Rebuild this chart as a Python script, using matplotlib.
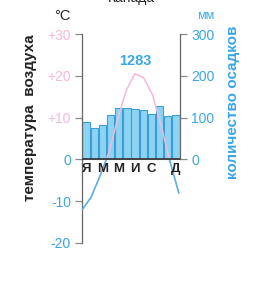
import matplotlib
matplotlib.use("Agg")
import matplotlib.pyplot as plt
import numpy as np
from matplotlib.patches import Rectangle

plt.rcParams['font.family'] = ['Liberation Sans', 'DejaVu Sans']

months = ["Я", "Ф", "М", "А", "М", "И", "И", "А", "С", "О", "Н", "Д"]
month_label_idx = [0, 2, 4, 6, 8, 11]
precip_mm = [90, 75, 82, 107, 122, 122, 120, 118, 108, 128, 105, 107]
temp_c = [-12, -9, -4, 1.5, 9.5, 16.5, 20.5, 19.5, 15.5, 8, -0.5, -8]
total_precip = "1283"
temp_ticks = [-20, -10, 0, 10, 20, 30]
temp_tick_labels = ["-20", "-10", "0", "+10", "+20", "+30"]
precip_ticks = [0, 100, 200, 300]

BLUE = "#3aa6e6"
PINK = "#f6b8da"
BAR = "#8dd3f3"
BAR_EDGE = "#3b9fd6"

fig = plt.figure(figsize=(2.70, 2.92), dpi=100)
ax = fig.add_axes([82/270, 1-243/292, 98/270, 209/292])
ax2 = ax.twinx()

ax.set_xlim(-0.5, 11.5)
ax.set_ylim(-20, 30)
ax2.set_ylim(-200, 300)

# bars on secondary (mm) axis
x = np.arange(12)
ax2.bar(x, precip_mm, width=0.88, color=BAR, edgecolor=BAR_EDGE, linewidth=0.8, zorder=2)

# temperature line (pink above 0, blue below)
lx = np.linspace(-0.45, 11.35, 12)
ax.set_zorder(ax2.get_zorder() + 1)
ax.patch.set_visible(False)
t = np.array(temp_c, dtype=float)
lb, = ax.plot(lx, t, color="#5aaee2", lw=1.2, zorder=3)
lb.set_clip_path(Rectangle((-0.5, -20), 12, 20, transform=ax.transData))
lp, = ax.plot(lx, t, color=PINK, lw=1.1, zorder=3)
lp.set_clip_path(Rectangle((-0.5, 0), 12, 30, transform=ax.transData))

# zero line
ax.axhline(0, color="#444444", lw=1.4, zorder=4)

# spines
for a in (ax, ax2):
    a.spines['top'].set_visible(False)
    a.spines['bottom'].set_visible(False)
ax.spines['right'].set_visible(False)
ax2.spines['left'].set_visible(False)
ax.spines['left'].set_color("#666666")
ax.spines['left'].set_linewidth(0.9)
ax2.spines['right'].set_color("#666666")
ax2.spines['right'].set_linewidth(0.9)
ax2.spines['right'].set_bounds(0, 300)

ax.set_xticks([])
ax2.set_xticks([])

ax.set_yticks(temp_ticks)
ax.set_yticklabels(temp_tick_labels, fontsize=10)
ax.tick_params(axis='y', length=5, width=0.9, color="#888888", pad=3)
for lbl, v in zip(ax.get_yticklabels(), temp_ticks):
    lbl.set_color(PINK if v > 0 else BLUE)

ax2.set_yticks(precip_ticks)
ax2.set_yticklabels([str(v) for v in precip_ticks], fontsize=10, color=BLUE)
ax2.tick_params(axis='y', length=5, width=0.9, color="#888888", pad=3)

# month labels
for i in month_label_idx:
    ax.text(i, -0.9, months[i], ha='center', va='top', fontsize=9.5,
            fontweight='bold', color="#222222", zorder=5)

# total precipitation
ax.text(6, 23.5, total_precip, ha='center', va='center', fontsize=10.5,
        fontweight='bold', color=BLUE)

# units and titles
fig.text(62/270, 1-16/292, "°C", ha='center', va='center', fontsize=10.5, color="#222222")
fig.text(206/270, 1-16/292, "мм", ha='center', va='center', fontsize=9, color=BLUE)
fig.text(131/270, 1+2/292, "Канада", ha='center', va='center', fontsize=10, color="#222222")
fig.text(30/270, 1-118/292, "температура  воздуха", rotation=90, ha='center', va='center',
         fontsize=11, fontweight='bold', color="#222222")
fig.text(233/270, 1-102/292, "количество осадков", rotation=90, ha='center', va='center',
         fontsize=11, fontweight='bold', color=BLUE)

fig.savefig("out.png", dpi=100)
